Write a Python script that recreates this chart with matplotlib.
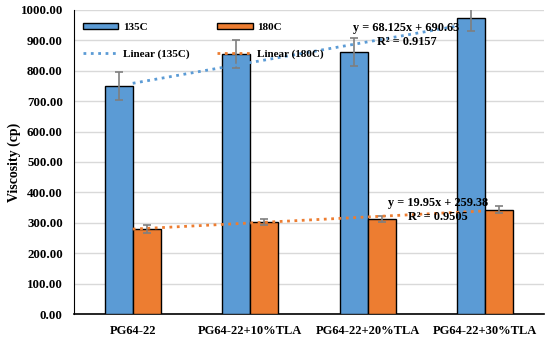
import matplotlib.pyplot as plt
from matplotlib.patches import Patch
from matplotlib.lines import Line2D
import numpy as np

plt.rcParams['font.family'] = ['Liberation Serif', 'DejaVu Serif']
plt.rcParams['font.weight'] = 'bold'

categories = ['PG64-22', 'PG64-22+10%TLA', 'PG64-22+20%TLA', 'PG64-22+30%TLA']
visc_135 = [750, 855, 862, 975]
err_135 = [46, 45, 47, 44]
visc_180 = [280, 303, 312, 343]
err_180 = [12, 11, 9, 11]
# Excel linear trendlines (x = 1..4)
fit_135 = (68.125, 690.63, 0.9157)
fit_180 = (19.95, 259.38, 0.9505)

blue = '#5B9BD5'
orange = '#ED7D31'

fig = plt.figure(figsize=(5.5, 3.39), dpi=100)
ax = fig.add_axes([0.1345, 0.0737, 0.8545, 0.897])

x = np.arange(len(categories))
w = 0.24
ax.bar(x - w/2, visc_135, w, color=blue, edgecolor='black', linewidth=1, zorder=3)
ax.bar(x + w/2, visc_180, w, color=orange, edgecolor='black', linewidth=1, zorder=3)
ax.errorbar(x - w/2, visc_135, yerr=err_135, fmt='none', ecolor='#7F7F7F',
            elinewidth=1.2, capsize=3, capthick=1.2, zorder=4)
ax.errorbar(x + w/2, visc_180, yerr=err_180, fmt='none', ecolor='#7F7F7F',
            elinewidth=1.2, capsize=3, capthick=1.2, zorder=4)

xn = x + 1
ax.plot(x, fit_135[0] * xn + fit_135[1], ls=':', color=blue, lw=2, zorder=5)
ax.plot(x, fit_180[0] * xn + fit_180[1], ls=':', color=orange, lw=2, zorder=5)

ax.text(2.33, 941, 'y = 68.125x + 690.63', ha='center', va='center', fontsize=8.8, fontweight='bold', zorder=6)
ax.text(2.33, 895, 'R² = 0.9157', ha='center', va='center', fontsize=8.8, fontweight='bold', zorder=6)
ax.text(2.6, 365, 'y = 19.95x + 259.38', ha='center', va='center', fontsize=8.8, fontweight='bold', zorder=6)
ax.text(2.6, 319, 'R² = 0.9505', ha='center', va='center', fontsize=8.8, fontweight='bold', zorder=6)

ax.set_xlim(-0.5, len(categories) - 0.5)
ax.set_ylim(0, 1000)
ax.set_yticks(np.arange(0, 1001, 100))
ax.set_yticklabels([f'{v:.2f}' for v in np.arange(0, 1001, 100)], fontsize=9.3, fontweight='bold')
ax.set_xticks(x)
ax.set_xticklabels(categories, fontsize=9, fontweight='bold')
ax.tick_params(length=0, pad=8)
ax.set_ylabel('Viscosity (cp)', fontsize=10, fontweight='bold')
ax.yaxis.set_label_coords(-0.113, 0.5)

ax.grid(axis='y', color='#D9D9D9', lw=1, zorder=0)
ax.set_axisbelow(True)
for s in ['top', 'right']:
    ax.spines[s].set_visible(False)
ax.spines['left'].set_color('black')
ax.spines['bottom'].set_color('black')
ax.spines['bottom'].set_linewidth(1.2)

handles = [Patch(facecolor=blue, edgecolor='black'),
           Line2D([], [], ls=':', color=blue, lw=2),
           Patch(facecolor=orange, edgecolor='black'),
           Line2D([], [], ls=':', color=orange, lw=2)]
labels = ['135C', 'Linear (135C)', '180C', 'Linear (180C)']
ax.legend(handles, labels, loc='upper left', bbox_to_anchor=(0.019, 0.957), ncol=2,
          frameon=False, fontsize=8, handlelength=3.2, handleheight=0.45,
          handletextpad=0.4, labelspacing=1.55, columnspacing=2.5,
          borderaxespad=0, borderpad=0)

fig.savefig('out.png', dpi=100)
